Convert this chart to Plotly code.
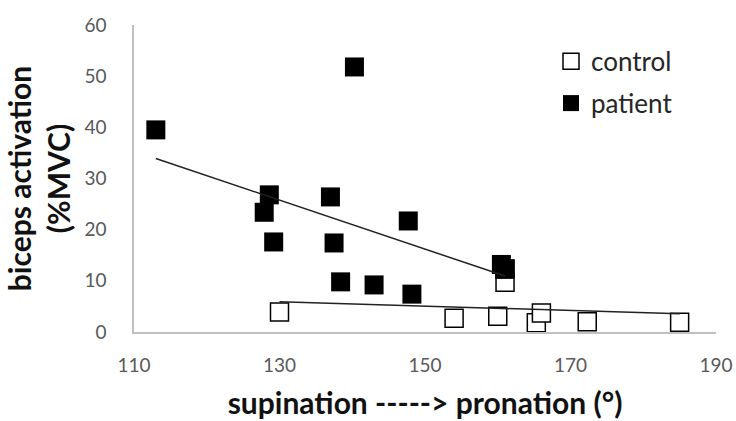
import numpy as np
import plotly.graph_objects as go

# Data
control_x = [130, 154, 160, 161, 161, 165.3, 166, 172.3, 185]
control_y = [3.9, 2.7, 3.1, 9.7, 12.3, 1.8, 3.7, 2.0, 1.9]
patient_x = [113, 140.3, 128.6, 127.9, 129.2, 137, 137.5, 138.4, 143, 147.7, 148.2, 160.5, 161]
patient_y = [39.5, 51.8, 26.8, 23.4, 17.6, 26.4, 17.4, 9.8, 9.2, 21.7, 7.4, 13.2, 12.3]
x_ticks = [110, 130, 150, 170, 190]
y_ticks = [0, 10, 20, 30, 40, 50, 60]

FONT = "Lato"


def trend(xs, ys):
    xs = np.asarray(xs, float)
    ys = np.asarray(ys, float)
    m, b = np.polyfit(xs, ys, 1)
    tx = np.array([xs.min(), xs.max()])
    return tx, m * tx + b


fig = go.Figure()
fig.add_trace(go.Scatter(
    x=control_x, y=control_y, mode="markers", name="control", legendgroup="c",
    marker=dict(symbol="square", size=18, color="white",
                line=dict(color="black", width=1.5)),
))
fig.add_trace(go.Scatter(
    x=patient_x, y=patient_y, mode="markers", name="patient", legendgroup="p",
    marker=dict(symbol="square", size=19, color="black",
                line=dict(color="black", width=0)),
))
for xs, ys in [(patient_x, patient_y), (control_x, control_y)]:
    tx, ty = trend(xs, ys)
    fig.add_trace(go.Scatter(x=tx, y=ty, mode="lines", showlegend=False,
                             line=dict(color="#222222", width=1.5),
                             hoverinfo="skip"))

fig.update_layout(
    width=736, height=421,
    margin=dict(l=134, r=20, t=25, b=89, autoexpand=False),
    paper_bgcolor="white", plot_bgcolor="white",
    font=dict(family=FONT, color="#595959", size=19),
    showlegend=True,
    legend=dict(x=0.7165, y=0.958, xanchor="left", yanchor="top",
                font=dict(family=FONT, size=26, color="#262626"),
                bgcolor="rgba(0,0,0,0)", itemwidth=30,
                traceorder="grouped", tracegroupgap=5),
    xaxis=dict(range=[110, 190], tickvals=x_ticks, ticktext=[str(v) for v in x_ticks],
               automargin=False,
               showgrid=False, zeroline=False, showline=True, linecolor="#c0c0c0",
               linewidth=1.5, ticks="", ticklen=0, ticklabelstandoff=15,
               tickfont=dict(family=FONT, size=19, color="#595959"),
               title=dict(text="<b>supination -----> pronation (°)</b>",
                          font=dict(family=FONT, size=30, color="#111111"),
                          standoff=18)),
    yaxis=dict(range=[0, 60], tickvals=y_ticks, ticktext=[str(v) for v in y_ticks],
               automargin=False,
               showgrid=False, zeroline=False, showline=True, linecolor="#c0c0c0",
               linewidth=1.5, ticks="", ticklen=0, ticklabelstandoff=22,
               tickfont=dict(family=FONT, size=19, color="#595959"),
               title=dict(text="<b>biceps activation<br>(%MVC)</b>",
                          font=dict(family=FONT, size=30, color="#111111"),
                          standoff=5)),
)

# remove the default page margin so the figure sits at the window's top-left corner
fig.write_html("out.html", config={"displayModeBar": False},
               post_script="document.body.style.margin='0';document.body.style.overflow='hidden';")
